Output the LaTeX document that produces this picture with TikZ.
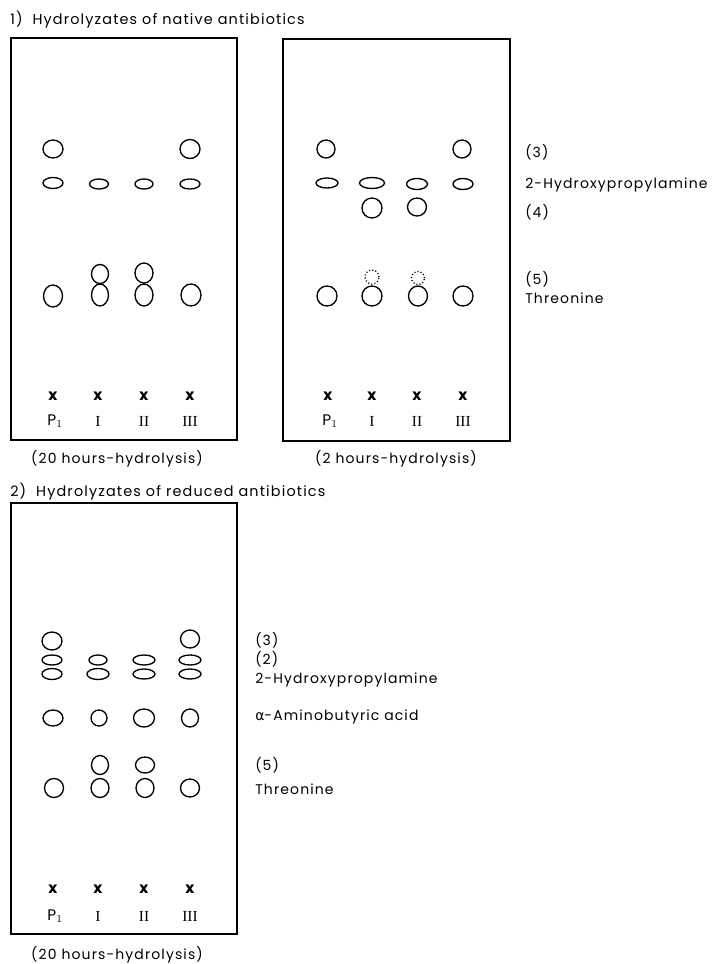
\documentclass[tikz,border=0pt]{standalone}
\usepackage{fontspec}
\setmainfont{Poppins}[LetterSpace=8]
\newfontfamily\grk{DejaVu Sans}
\newfontfamily\rom{Liberation Serif}
\usetikzlibrary{shapes.geometric}
\begin{document}
\begin{tikzpicture}[x=0.75pt,y=-0.75pt,
  plate/.style={line width=1.2pt},
  spot/.style={draw,ellipse,line width=1pt,inner sep=0pt},
  faint/.style={draw,circle,line width=1pt,dash pattern=on 0.8pt off 1.6pt,inner sep=0pt},
  txt/.style={font=\fontsize{10.5}{12}\selectfont,anchor=west,inner sep=0pt},
  title/.style={font=\fontsize{10.8}{12}\selectfont,anchor=west,inner sep=0pt},
  lane/.style={font=\fontsize{10.5}{12}\selectfont,inner sep=0pt},
  plab/.style={font=\fontsize{11.5}{12}\selectfont,inner sep=0pt},
  xmark/.style={font=\fontsize{11.5}{12}\selectfont\bfseries,inner sep=0pt},
  romlab/.style={font=\fontsize{11.5}{12}\rom,inner sep=0pt}]
\useasboundingbox (0,0) rectangle (712,964);
\newcommand{\spotat}[5]{\node[spot,minimum width=#3*1.5pt,minimum height=#4*1.5pt] (#5) at (#1,#2) {};}
% titles
\node[title] (t1) at (10,20) {1)\ \ Hydrolyzates of native antibiotics};
\node[title] (t2) at (10,492) {2)\ \ Hydrolyzates of reduced antibiotics};
% plates
\node[plate,draw,minimum width=226*0.75pt,minimum height=402*0.75pt,inner sep=0pt] (b1) at (124,239) {};
\node[plate,draw,minimum width=227*0.75pt,minimum height=402*0.75pt,inner sep=0pt] (b2) at (396.5,240) {};
\node[plate,draw,minimum width=226*0.75pt,minimum height=431*0.75pt,inner sep=0pt] (b3) at (124,718.5) {};
% ---- plate 1
\spotat{53}{149}{10}{9}{a1}
\spotat{53}{183}{10}{5.5}{a2}
\spotat{53}{296}{9.5}{11}{a3}
\spotat{99}{184}{9.5}{5}{a4}
\spotat{100}{274}{8.5}{9.5}{a5}
\spotat{100}{295}{8.5}{11}{a6}
\spotat{144}{184}{9}{5}{a7}
\spotat{144}{273}{9}{10}{a8}
\spotat{144}{295}{9}{11}{a9}
\spotat{190}{149}{10}{9.5}{a10}
\spotat{190}{184}{10}{5}{a11}
\spotat{191}{295}{10}{11}{a12}
\foreach \x/\n in {53/p,98/q,144/r,190/s}{\node[xmark] (m1\n) at (\x,396) {x};}
\node[plab] (l1a) at (55,421) {P$_{\scriptstyle 1}$};
\node[romlab] (l1b) at (98,421) {I};
\node[romlab] (l1c) at (144,421) {II};
\node[romlab] (l1d) at (190,421) {III};
\node[lane] (c1) at (117,459) {(20 hours-hydrolysis)};
% ---- plate 2
\spotat{326}{149}{9}{9}{b1s}
\spotat{327}{183}{11}{5}{b2s}
\spotat{327}{296}{10}{10}{b3s}
\spotat{372}{183}{12.5}{5.5}{b4s}
\spotat{372}{208}{10}{10}{b5s}
\node[faint,minimum size=14*0.75pt] (b6s) at (372,277) {};
\spotat{372}{296}{10}{10}{b7s}
\spotat{417}{184}{10.5}{5.5}{b8s}
\spotat{417}{207}{9.5}{9}{b9s}
\node[faint,minimum size=13*0.75pt] (b10s) at (418,278) {};
\spotat{418}{296}{9.5}{10}{b11s}
\spotat{462}{149}{9}{9}{b12s}
\spotat{463}{184}{10}{5.5}{b13s}
\spotat{463}{296}{10}{10}{b14s}
\foreach \x/\n in {328/p,372/q,417/r,463/s}{\node[xmark] (m2\n) at (\x,396) {x};}
\node[plab] (l2a) at (330,421) {P$_{\scriptstyle 1}$};
\node[romlab] (l2b) at (372,421) {I};
\node[romlab] (l2c) at (417,421) {II};
\node[romlab] (l2d) at (463,421) {III};
\node[lane] (c2) at (396,459) {(2 hours-hydrolysis)};
\node[txt] (r1) at (525,152) {(3)};
\node[txt] (r2) at (525,185) {2-Hydroxypropylamine};
\node[txt] (r3) at (525,212) {(4)};
\node[txt] (r4) at (525,279) {(5)};
\node[txt] (r5) at (525,298) {Threonine};
% ---- plate 3
\spotat{52}{641}{10}{9}{c1s}
\spotat{52}{660}{10}{5}{c2s}
\spotat{52}{674}{10}{5.5}{c3s}
\spotat{53}{718}{10}{8}{c4s}
\spotat{54}{788}{9.5}{9.5}{c5s}
\spotat{98}{660}{9}{5}{c6s}
\spotat{98}{674}{11}{5.5}{c7s}
\spotat{99}{718}{8}{8}{c8s}
\spotat{100}{765}{8.5}{9.5}{c9s}
\spotat{100}{788}{9}{9.5}{c10s}
\spotat{144}{660}{11}{5}{c11s}
\spotat{144}{674}{11}{5}{c12s}
\spotat{144}{718}{10.5}{9}{c13s}
\spotat{145}{765}{9.5}{8}{c14s}
\spotat{145}{788}{9}{9.5}{c15s}
\spotat{190}{639}{9.5}{9}{c16s}
\spotat{190}{660}{11}{5}{c17s}
\spotat{190}{674}{11}{5}{c18s}
\spotat{190}{718}{8.5}{9}{c19s}
\spotat{190}{788}{9.5}{9}{c20s}
\foreach \x/\n in {53/p,98/q,144/r,190/s}{\node[xmark] (m3\n) at (\x,889) {x};}
\node[plab] (l3a) at (55,916) {P$_{\scriptstyle 1}$};
\node[romlab] (l3b) at (98,916) {I};
\node[romlab] (l3c) at (144,916) {II};
\node[romlab] (l3d) at (190,916) {III};
\node[lane] (c3) at (117,955) {(20 hours-hydrolysis)};
\node[txt] (s1) at (255,640) {(3)};
\node[txt] (s2) at (255,659) {(2)};
\node[txt] (s3) at (255,680) {2-Hydroxypropylamine};
\node[txt] (s4) at (255,717) {{\grk α}-Aminobutyric acid};
\node[txt] (s5) at (255,765) {(5)};
\node[txt] (s6) at (255,789) {Threonine};
\end{tikzpicture}
\end{document}
